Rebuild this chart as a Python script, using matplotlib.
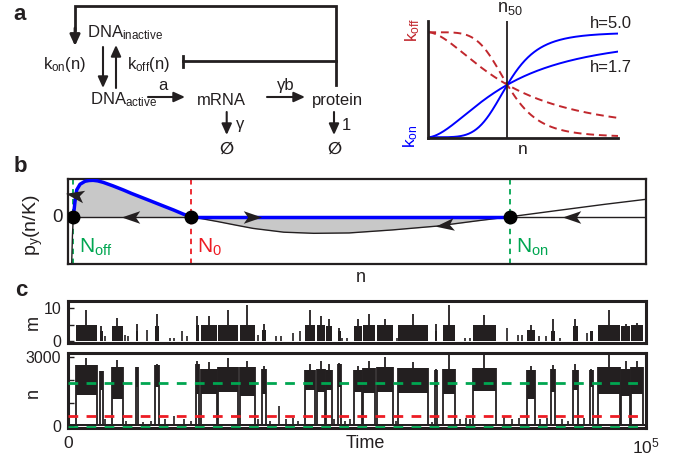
import numpy as np
import matplotlib
matplotlib.use('Agg')
import matplotlib.pyplot as plt
from matplotlib.path import Path
from matplotlib.markers import MarkerStyle
from matplotlib.transforms import Affine2D

plt.rcParams['font.family'] = ['Liberation Sans', 'DejaVu Sans']
plt.rcParams['mathtext.fontset'] = 'custom'
plt.rcParams['mathtext.rm'] = 'Liberation Sans'
plt.rcParams['mathtext.it'] = 'Liberation Sans:italic'
plt.rcParams['mathtext.bf'] = 'Liberation Sans:bold'

INK = '#231f20'
BLUE = '#0000ff'
RED = '#ed1c24'
DRED = '#c1272d'
GREEN = '#00a651'
GRAY = '#c8c8c8'

# ---- panel a (right): hill functions
hill_h = [5.0, 1.7]
n50 = 1.0
n_max = 2.4

# ---- panel b: phase portrait, n scaled 0..1 across the axis
N_off, N_0, N_on = 0.010, 0.213, 0.766
up_x = [0.0097, 0.0112, 0.0126, 0.0156, 0.0213, 0.030, 0.037, 0.044, 0.052, 0.0616, 0.078,
        0.0962, 0.110, 0.125, 0.140, 0.154, 0.168, 0.183, 0.200, 0.213]
up_y = [0.0, 0.20, 0.40, 0.71, 0.86, 0.94, 0.96, 0.965, 0.95, 0.91, 0.82,
        0.71, 0.62, 0.53, 0.44, 0.355, 0.27, 0.18, 0.07, 0.0]
low_x = [0.213, 0.235, 0.260, 0.290, 0.321, 0.374, 0.426, 0.487, 0.562, 0.638, 0.713, 0.766]
low_y = [0.0, -0.06, -0.13, -0.22, -0.31, -0.41, -0.44, -0.43, -0.35, -0.25, -0.10, 0.0]
right_x = [0.766, 0.85, 0.93, 1.0]
right_y = [0.0, 0.17, 0.33, 0.46]
left_x = [0.0069, 0.0075, 0.0082, 0.0097]
left_y = [-1.24, -0.9, -0.5, 0.0]

# ---- panel c: switching trace (time in thousands)
on_start = [1.33, 5.49, 7.52, 11.67, 15.02, 22.12, 22.98, 25.98, 29.74, 33.49, 40.99, 43.02, 44.63, 46.76,
            49.48, 51.09, 53.41, 57.15, 63.51, 64.84, 70.14, 79.39, 83.55, 87.36, 90.35, 91.79, 95.84, 97.57]
on_end = [4.97, 6.01, 9.42, 12.02, 15.76, 22.64, 25.70, 29.44, 32.33, 34.24, 42.73, 44.46, 45.62, 47.18,
          50.81, 53.12, 56.29, 62.35, 63.80, 66.97, 74.07, 80.83, 84.29, 88.33, 90.92, 95.55, 97.28, 99.58]
n_hi = [2650, 2400, 2600, 2600, 2650, 2700, 2500, 2600, 2600, 2500, 2450, 2500, 2450, 2700,
        2450, 2550, 2600, 2550, 2450, 2500, 2550, 2450, 2500, 2450, 2450, 2600, 2500, 2600]
n_lo = [1350, 1600, 1200, 1700, 1700, 1400, 1400, 1500, 1300, 1400, 1600, 1500, 1600, 1700,
        1500, 1450, 1500, 1450, 1700, 1400, 1550, 1200, 1500, 1600, 1700, 1400, 1300, 1400]
n_peak = [2950, 2400, 2900, 2600, 2700, 2850, 2800, 2950, 2850, 2630, 2700, 2850, 2700, 2740,
          2630, 2850, 3000, 2800, 2480, 3100, 3100, 2630, 2660, 2700, 2480, 3100, 2860, 2850]
m_hi = [5, 3, 4.5, 3, 4.5, 5, 5, 5, 5, 3.5, 5, 5, 4.5, 3, 4.5, 5, 5, 5, 3, 5, 5, 3.5, 3, 4.5, 3, 5, 4.5, 5]
m_peak = [9.5, 4.5, 7, 5.3, 8.2, 7.5, 7.5, 9.5, 10.8, 5.3, 9.5, 7.7, 6.7, 4, 6.7, 8.2, 6.7, 8.2,
          5.3, 10.8, 8, 5, 6.7, 6.7, 3, 9.5, 5.3, 5.5]
off_n_t = [6.4, 10.0, 13.0, 14.4, 16.8, 18.3, 20.0, 21.2, 32.9, 35.0, 36.5, 37.8, 38.9, 39.8, 46.0,
           48.0, 48.8, 56.7, 63.0, 67.8, 68.9, 69.6, 75.5, 76.8, 78.0, 81.8, 82.9, 85.5, 86.6, 89.3]
off_n = [300, 250, 200, 250, 300, 450, 300, 250, 300, 250, 900, 300, 350, 250, 300,
         250, 300, 250, 200, 300, 350, 300, 400, 300, 350, 300, 350, 300, 250, 350]
off_m_t = [6.36, 9.82, 10.34, 13.63, 17.61, 18.31, 19.69, 20.56, 32.9, 35.97, 36.84, 38.92, 40.13,
           47.40, 48.27, 56.93, 68.70, 69.57, 75.98, 77.89, 78.58, 81.5, 82.74, 85.16, 89.84]
off_m = [1.5, 2, 1.5, 3.5, 1, 1, 3, 1.5, 2, 1.5, 1.5, 2.5, 3, 1, 1, 1, 1, 1, 4, 2, 2, 1.5, 1.5, 1, 2.5]
n_low_level = 120
n_green_on, n_red, n_green_off = 1900, 450, -30

W, H = 683, 459
fig = plt.figure(figsize=(W / 100, H / 100), dpi=100)


def box(l, r, t, b):
    return [l / W, 1 - b / H, (r - l) / W, (b - t) / H]


# ---------------- panel a right
axh = fig.add_axes(box(428.3, 618, 20.7, 138.3))
ng = np.linspace(0, n_max, 300)
for h in hill_h:
    kon = ng ** h / (n50 ** h + ng ** h)
    axh.plot(ng, kon, color=BLUE, lw=1.4)
    axh.plot(ng, 1 - kon, color=DRED, lw=1.4, dashes=(4, 2.5))
axh.axvline(n50, color=INK, lw=1.3)
axh.set_xlim(0, n_max)
axh.set_ylim(-0.01, 1.11)
axh.set_xticks([])
axh.set_yticks([])
for s in ['top', 'right']:
    axh.spines[s].set_visible(False)
for s in ['left', 'bottom']:
    axh.spines[s].set_linewidth(2)
    axh.spines[s].set_color(INK)
axh.patch.set_alpha(0)

# ---------------- panel b
axb = fig.add_axes(box(67.7, 645.5, 179, 263.5))
axb.fill_between(up_x, up_y, 0, color=GRAY, lw=0)
axb.fill_between(low_x, low_y, 0, color=GRAY, lw=0)
axb.axhline(0, color=INK, lw=1.0, zorder=2)
axb.plot(low_x, low_y, color=INK, lw=1.0, zorder=2)
axb.plot(right_x, right_y, color=INK, lw=1.0, zorder=2)
axb.plot(left_x, left_y, color=INK, lw=1.0, zorder=2)
axb.plot(up_x, up_y, color=BLUE, lw=2.5, zorder=3)
axb.plot([N_0, N_on], [0, 0], color=BLUE, lw=2.5, zorder=3)
axb.axvline(N_off, color=GREEN, lw=1.3, dashes=(3, 2.5), zorder=1)
axb.axvline(N_on, color=GREEN, lw=1.3, dashes=(3, 2.5), zorder=1)
axb.axvline(N_0, color=RED, lw=1.3, dashes=(3, 2.5), zorder=1)
axb.plot([N_off, N_0, N_on], [0, 0, 0], 'o', color='k', ms=9, zorder=5)

stealth = Path([(1, 0), (-0.9, 0.65), (-0.45, 0), (-0.9, -0.65), (1, 0)],
               [Path.MOVETO, Path.LINETO, Path.LINETO, Path.LINETO, Path.CLOSEPOLY])


def head(ax, x, y, ang):
    mk = MarkerStyle(stealth, transform=Affine2D().rotate_deg(ang))
    ax.plot([x], [y], marker=mk, ms=14, color=INK, mew=0, zorder=6, clip_on=False)


head(axb, 0.109, 0, 180)
head(axb, 0.319, 0, 0)
head(axb, 0.653, -0.22, 187)
head(axb, 0.872, 0, 180)
head(axb, 0.012, 0.58, 170)
axb.set_xlim(0, 1)
axb.set_ylim(-1.24, 1.0)
axb.set_xticks([])
axb.set_yticks([])
for s in axb.spines.values():
    s.set_linewidth(1.6)
    s.set_color(INK)

# ---------------- panel c
axm = fig.add_axes(box(68.3, 645.5, 301.3, 343))
axn = fig.add_axes(box(68.3, 645.5, 352.7, 427.7))
t0 = np.array(on_start) * 1e3
t1 = np.array(on_end) * 1e3
tc = (t0 + t1) / 2
axn.fill_between([0, 1e5], 0, n_low_level, color=INK, lw=0)
for a, b_, lo, hi in zip(t0, t1, n_lo, n_hi):
    axn.fill_between([a, b_], lo, hi, color=INK, lw=0)
axn.vlines(np.concatenate([t0, t1]), 0, np.concatenate([n_hi, n_hi]), color=INK, lw=1.3)
axn.vlines(tc, np.array(n_lo), n_peak, color=INK, lw=1.3)
axn.vlines(np.array(off_n_t) * 1e3, 0, off_n, color=INK, lw=1.2)
axn.axhline(n_green_on, color=GREEN, lw=2, dashes=(3.5, 3), zorder=4)
axn.axhline(n_red, color=RED, lw=2, dashes=(3.5, 3), zorder=4)
axn.axhline(n_green_off, color=GREEN, lw=2, dashes=(3.5, 3), zorder=4)
axn.set_xlim(0, 1e5)
axn.set_ylim(-60, 3200)
axn.set_yticks([0, 1000, 2000, 3000])
axn.set_yticklabels(['0', '', '', '3000'])
axn.set_xticks([0, 1e5])
axn.set_xticklabels(['0', '10$^5$'])

for a, b_, hi in zip(t0, t1, m_hi):
    axm.fill_between([a, b_], 0, hi, color=INK, lw=0)
axm.vlines(tc, 0, m_peak, color=INK, lw=1.3)
axm.vlines(np.array(off_m_t) * 1e3, 0, off_m, color=INK, lw=1.2)
axm.set_xlim(0, 1e5)
axm.set_ylim(-0.5, 12)
axm.set_yticks([0, 5, 10])
axm.set_yticklabels(['0', '', '10'])
axm.set_xticks([])

for ax in (axm, axn):
    for s in ax.spines.values():
        s.set_linewidth(2.2)
        s.set_color(INK)
    ax.tick_params(direction='in', length=4, width=1, labelsize=11.5, pad=5, colors=INK)
axn.tick_params(axis='x', length=0, pad=6, labelsize=12.5)

# ---------------- overlay: diagram and labels in pixel coordinates
ov = fig.add_axes([0, 0, 1, 1])
ov.set_xlim(0, W)
ov.set_ylim(H, 0)
ov.axis('off')
ov.patch.set_alpha(0)


def arr(x0, y0, x1, y1, lw=1.5):
    ov.annotate('', xy=(x1, y1), xytext=(x0, y0),
                arrowprops=dict(arrowstyle='-|>,head_length=0.55,head_width=0.25', lw=lw,
                                color=INK, shrinkA=0, shrinkB=0, mutation_scale=12))


fs = 12
ov.text(20, 15, 'a', fontsize=16, fontweight='bold', ha='center', va='center', color=INK)
ov.text(20, 167, 'b', fontsize=16, fontweight='bold', ha='center', va='center', color=INK)
ov.text(21, 291, 'c', fontsize=16, fontweight='bold', ha='center', va='center', color=INK)

ov.plot([75, 75, 336, 336], [30, 6, 6, 85], color=INK, lw=2, solid_joinstyle='miter')
arr(75, 28, 75, 46, lw=2)
ov.plot([183, 336], [61, 61], color=INK, lw=2)
ov.plot([183, 183], [55.5, 66.5], color=INK, lw=2)
ov.text(87, 37, 'DNA$_{\\mathrm{inactive}}$', fontsize=fs, ha='left', va='baseline', color=INK)
ov.text(43, 69, 'k$_{\\mathrm{on}}$(n)', fontsize=fs, ha='left', va='baseline', color=INK)
ov.text(127, 69, 'k$_{\\mathrm{off}}$(n)', fontsize=fs, ha='left', va='baseline', color=INK)
arr(103, 47, 103, 88)
arr(116, 88, 116, 45)
ov.text(90, 104, 'DNA$_{\\mathrm{active}}$', fontsize=fs, ha='left', va='baseline', color=INK)
ov.text(163, 90, 'a', fontsize=fs, ha='center', va='baseline', color=INK)
arr(148, 97, 185, 97)
ov.text(197, 105, 'mRNA', fontsize=fs, ha='left', va='baseline', color=INK)
ov.text(286, 90, '\u03b3b', fontsize=fs, ha='center', va='baseline', color=INK)
arr(267, 97, 305, 97)
ov.text(312, 105, 'protein', fontsize=fs, ha='left', va='baseline', color=INK)
arr(226.7, 112, 226.7, 135)
arr(334, 112, 334, 135)
ov.text(236, 125, '\u03b3', fontsize=fs, ha='left', va='center', color=INK)
ov.text(342, 125, '1', fontsize=fs, ha='left', va='center', color=INK)
ov.text(226.7, 149, '\u2205', fontsize=fs, ha='center', va='center', color=INK,
        fontweight='bold', family=['Liberation Sans', 'DejaVu Sans'])
ov.text(334, 149, '\u2205', fontsize=fs, ha='center', va='center', color=INK,
        fontweight='bold', family=['Liberation Sans', 'DejaVu Sans'])

# hill panel labels
ov.text(497, 12, 'n$_{50}$', fontsize=13, ha='left', va='baseline', color=INK)
ov.text(590, 23, 'h=5.0', fontsize=12, ha='left', va='center', color=INK)
ov.text(590, 68, 'h=1.7', fontsize=12, ha='left', va='center', color=INK)
ov.text(413, 30, 'k$_{\\mathrm{off}}$', fontsize=12.5, rotation=90, ha='center', va='center', color=DRED)
ov.text(411, 136, 'k$_{\\mathrm{on}}$', fontsize=12.5, rotation=90, ha='center', va='center', color=BLUE)
ov.text(523, 149, 'n', fontsize=12.5, ha='center', va='center', color=INK)

# panel b labels
ov.text(62.5, 218, '0', fontsize=13.5, ha='right', va='center', color=INK)
ov.text(33, 225, 'p$_{\\mathrm{y}}$(n/K)', fontsize=14, rotation=90, ha='center', va='center', color=INK)
ov.text(361, 278, 'n', fontsize=13, ha='center', va='center', color=INK)
ov.text(79, 253, 'N$_{\\mathrm{off}}$', fontsize=15, ha='left', va='baseline', color=GREEN)
ov.text(197, 253, 'N$_{0}$', fontsize=15, ha='left', va='baseline', color=RED)
ov.text(516, 253, 'N$_{\\mathrm{on}}$', fontsize=15, ha='left', va='baseline', color=GREEN)

# panel c labels
ov.text(33, 322, 'm', fontsize=13, rotation=90, ha='center', va='center', color=INK)
ov.text(33, 393, 'n', fontsize=13, rotation=90, ha='center', va='center', color=INK)
ov.text(365, 443, 'Time', fontsize=13, ha='center', va='center', color=INK)

fig.savefig('out.png', dpi=100)
